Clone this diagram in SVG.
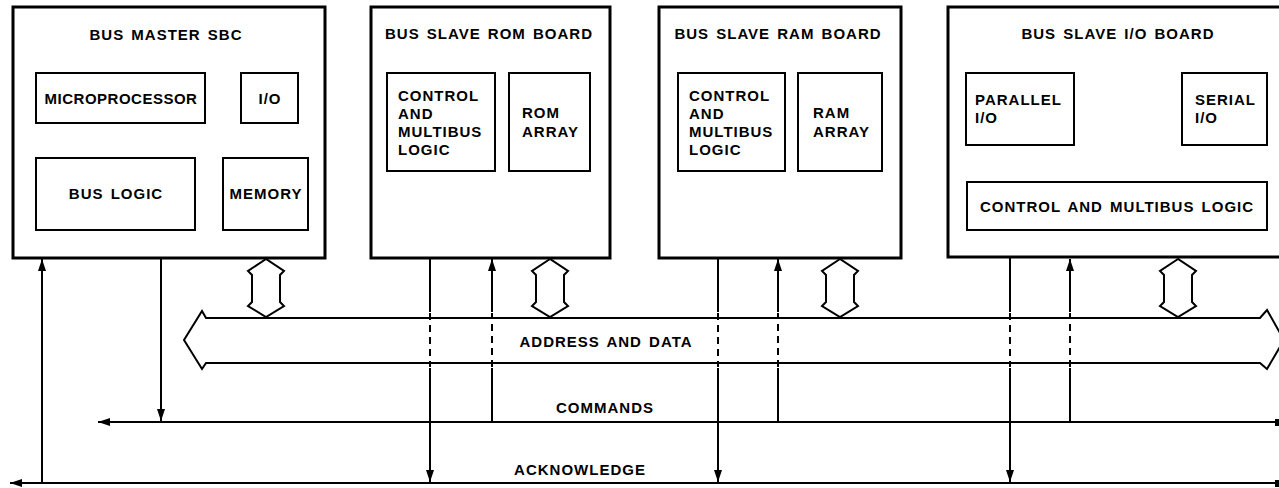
<svg xmlns="http://www.w3.org/2000/svg" width="1279" height="488" viewBox="0 0 1279 488">
  <style>
    .board { fill: none; stroke: #000; stroke-width: 3; }
    .box { fill: none; stroke: #000; stroke-width: 2; }
    .ln { fill: none; stroke: #000; stroke-width: 2; }
    .dash { fill: none; stroke: #000; stroke-width: 2; stroke-dasharray: 7 5; }
    .hollow { fill: #fff; stroke: #000; stroke-width: 2; stroke-linejoin: miter; }
    text { font-family: "Liberation Sans", Arial, sans-serif; font-size: 15px; font-weight: bold; letter-spacing: 1px; word-spacing: 2px; fill: #000; }
    .mid { text-anchor: middle; }
    .tight { letter-spacing: 0.5px; }
  </style>
  <defs>
    <marker id="head" viewBox="0 0 12 8" refX="12" refY="4" markerWidth="12" markerHeight="8" markerUnits="userSpaceOnUse" orient="auto">
      <path d="M0,0 L12,4 L0,8 Z" fill="#000"/>
    </marker>
  </defs>
  <rect width="1279" height="488" fill="#fff"/>

  <!-- Bus master single board computer -->
  <g id="bus-master">
    <rect class="board" x="13" y="7" width="312" height="251"/>
    <text class="mid" x="166" y="40">BUS MASTER SBC</text>
    <rect class="box" x="36" y="73" width="169" height="50"/>
    <text class="mid tight" x="121" y="104">MICROPROCESSOR</text>
    <rect class="box" x="241" y="73" width="57" height="50"/>
    <text class="mid" x="270" y="104">I/O</text>
    <rect class="box" x="36" y="158" width="159" height="72"/>
    <text class="mid" x="116" y="199">BUS LOGIC</text>
    <rect class="box" x="223" y="158" width="85" height="72"/>
    <text class="mid" x="266" y="199">MEMORY</text>
  </g>

  <!-- Slave ROM board -->
  <g id="rom-board">
    <rect class="board" x="371" y="7" width="239" height="251"/>
    <text class="mid" x="489" y="39">BUS SLAVE ROM BOARD</text>
    <rect class="box" x="387" y="73" width="108" height="98"/>
    <text x="398" y="101">CONTROL</text>
    <text x="398" y="119">AND</text>
    <text x="398" y="137">MULTIBUS</text>
    <text x="398" y="155">LOGIC</text>
    <rect class="box" x="509" y="73" width="81" height="98"/>
    <text x="522" y="118">ROM</text>
    <text x="522" y="137">ARRAY</text>
  </g>

  <!-- Slave RAM board -->
  <g id="ram-board">
    <rect class="board" x="659" y="7" width="242" height="251"/>
    <text class="mid" x="778" y="39">BUS SLAVE RAM BOARD</text>
    <rect class="box" x="678" y="73" width="107" height="98"/>
    <text x="689" y="101">CONTROL</text>
    <text x="689" y="119">AND</text>
    <text x="689" y="137">MULTIBUS</text>
    <text x="689" y="155">LOGIC</text>
    <rect class="box" x="798" y="73" width="84" height="98"/>
    <text x="813" y="118">RAM</text>
    <text x="813" y="137">ARRAY</text>
  </g>

  <!-- Slave I/O board -->
  <g id="io-board">
    <rect class="board" x="948" y="7" width="340" height="250"/>
    <text class="mid" x="1118" y="39">BUS SLAVE I/O BOARD</text>
    <rect class="box" x="966" y="73" width="108" height="72"/>
    <text x="975" y="105">PARALLEL</text>
    <text x="975" y="123">I/O</text>
    <rect class="box" x="1182" y="73" width="85" height="72"/>
    <text x="1195" y="105">SERIAL</text>
    <text x="1195" y="123">I/O</text>
    <rect class="box" x="967" y="182" width="300" height="48"/>
    <text class="mid" x="1117" y="212">CONTROL AND MULTIBUS LOGIC</text>
  </g>

  <!-- Address and data bus -->
  <g id="address-data-bus">
    <path class="hollow" d="M206,318 L202,311 L184,340 L202,369 L206,363 L1260,363 L1267,369 L1284,340 L1267,310 L1260,318 Z"/>
    <text class="mid" x="606" y="347">ADDRESS AND DATA</text>
  </g>

  <g id="connectors">
    <!-- board-to-bus data taps -->
    <path class="hollow" d="M266,259 L248,271 L252,275 L252,302 L248,306 L266,317 L284,306 L280,302 L280,275 L284,271 Z"/>
    <path class="hollow" d="M550,259 L532,271 L536,275 L536,302 L532,306 L550,317 L568,306 L564,302 L564,275 L568,271 Z"/>
    <path class="hollow" d="M840,259 L822,271 L826,275 L826,302 L822,306 L840,317 L858,306 L854,302 L854,275 L858,271 Z"/>
    <path class="hollow" d="M1178,259 L1160,271 L1164,275 L1164,302 L1160,306 L1178,317 L1196,306 L1192,302 L1192,275 L1196,271 Z"/>

    <!-- command line -->
    <line class="ln" x1="1278" y1="422" x2="98" y2="422" marker-end="url(#head)"/>
    <rect x="1275" y="419" width="4" height="7" fill="#000"/>
    <text class="mid" x="605" y="413">COMMANDS</text>

    <!-- acknowledge line -->
    <line class="ln" x1="1278" y1="483" x2="10" y2="483" marker-end="url(#head)"/>
    <rect x="1275" y="480" width="4" height="7" fill="#000"/>
    <text class="mid" x="580" y="475">ACKNOWLEDGE</text>

    <!-- master: acknowledge in, command out -->
    <line class="ln" x1="42" y1="483" x2="42" y2="259" marker-end="url(#head)"/>
    <line class="ln" x1="161" y1="258" x2="161" y2="421" marker-end="url(#head)"/>

    <!-- slave acknowledge outputs (down) -->
    <g>
      <line class="ln" x1="430" y1="258" x2="430" y2="312"/>
      <line class="dash" x1="430" y1="313" x2="430" y2="367"/>
      <line class="ln" x1="430" y1="368" x2="430" y2="482" marker-end="url(#head)"/>
      <line class="ln" x1="718" y1="258" x2="718" y2="312"/>
      <line class="dash" x1="718" y1="313" x2="718" y2="367"/>
      <line class="ln" x1="718" y1="368" x2="718" y2="482" marker-end="url(#head)"/>
      <line class="ln" x1="1010" y1="258" x2="1010" y2="312"/>
      <line class="dash" x1="1010" y1="313" x2="1010" y2="367"/>
      <line class="ln" x1="1010" y1="368" x2="1010" y2="482" marker-end="url(#head)"/>
    </g>

    <!-- slave command inputs (up) -->
    <g>
      <line class="ln" x1="492" y1="422" x2="492" y2="368"/>
      <line class="dash" x1="492" y1="367" x2="492" y2="313"/>
      <line class="ln" x1="492" y1="312" x2="492" y2="259" marker-end="url(#head)"/>
      <line class="ln" x1="778" y1="422" x2="778" y2="368"/>
      <line class="dash" x1="778" y1="367" x2="778" y2="313"/>
      <line class="ln" x1="778" y1="312" x2="778" y2="259" marker-end="url(#head)"/>
      <line class="ln" x1="1070" y1="422" x2="1070" y2="368"/>
      <line class="dash" x1="1070" y1="367" x2="1070" y2="313"/>
      <line class="ln" x1="1070" y1="312" x2="1070" y2="259" marker-end="url(#head)"/>
    </g>
  </g>
</svg>
